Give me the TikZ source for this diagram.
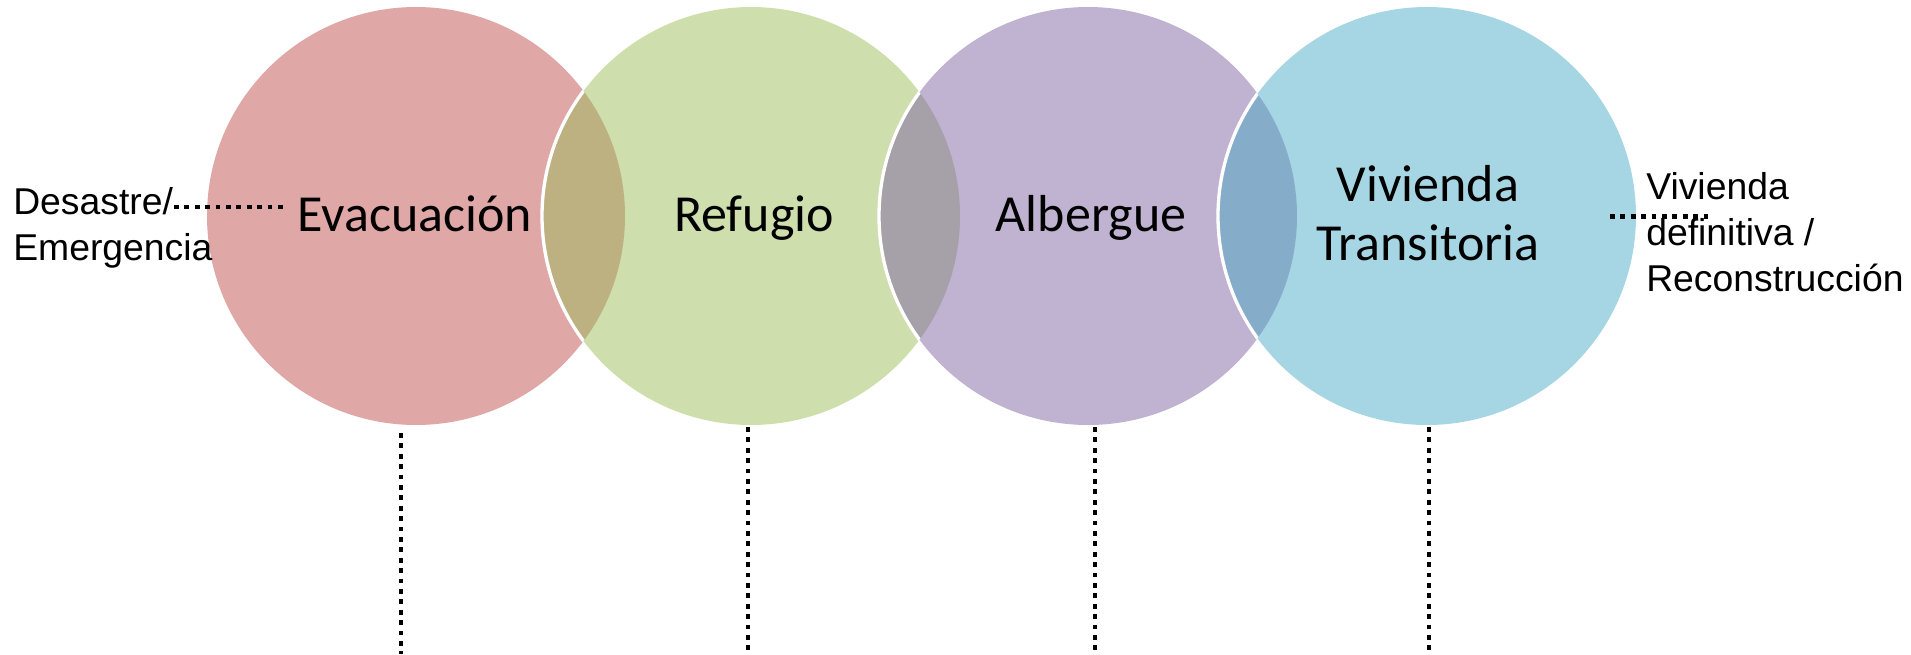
\documentclass[tikz,border=0pt]{standalone}
\usepackage{fontspec}
\setmainfont{Carlito}
\newfontfamily\arialfont{Liberation Sans}
\usetikzlibrary{positioning}
\definecolor{evac_fil}{RGB}{224,167,167}
\definecolor{refug_fil}{RGB}{206,222,173}
\definecolor{alberg_fil}{RGB}{192,178,209}
\definecolor{vivtr_fil}{RGB}{166,214,227}
\definecolor{lens_er}{RGB}{189,177,129}
\definecolor{lens_ra}{RGB}{166,160,168}
\definecolor{lens_av}{RGB}{133,173,201}
\newcommand\rad{156.75pt}
\tikzset{stage/.style = {circle, inner sep=0pt, minimum size=2*\rad, draw=none}}
\tikzset{stagetext/.style = {inner sep=0pt, align=center, font=\fontsize{39}{44.5}\selectfont}}
\tikzset{sidetext/.style = {inner sep=0pt, align=left, font=\arialfont\fontsize{28}{34.5}\selectfont}}
\tikzset{dotline/.style = {line width=3.6pt, line cap=butt, dash pattern=on 3.6pt off 4.2pt}}

\begin{document}
\begin{tikzpicture}[x=0.75pt,y=-0.75pt]
\useasboundingbox (0,0) rectangle (1911,654);

\node[stage, fill=evac_fil] (evac) at (416,216) {};
\node[stage, fill=refug_fil] (refug) at (751,216) {};
\node[stage, fill=alberg_fil] (alberg) at (1088,216) {};
\node[stage, fill=vivtr_fil] (vivtr) at (1427,216) {};

\foreach \a/\b/\c in {evac/refug/lens_er, refug/alberg/lens_ra, alberg/vivtr/lens_av}{
	\begin{scope}
	\clip (\a.center) circle[radius=\rad];
	\fill[\c] (\b.center) circle[radius=\rad];
	\draw[white, line width=2.5pt] (\b.center) circle[radius=\rad];
	\end{scope}
	}

\node[stagetext, anchor=base] (evac_t) at (415,231) {Evacuación};
\node[stagetext, anchor=base] (refug_t) at (754,231) {Refugio};
\node[stagetext, anchor=base] (alberg_t) at (1091,231) {Albergue};
\node[stagetext] (vivtr_t) at (1428,213) {Vivienda\\Transitoria};

\node[sidetext, anchor=west] (desastre) at (13,228) {Desastre/\\Emergencia};
\node[sidetext, anchor=west] (definit) at (1646,232) {Vivienda\\definitiva /\\Reconstrucción};

\coordinate (desastre_e) at (174,207);
\draw[dotline] (desastre_e) -- (evac_t.west |- desastre_e) [shorten >=11pt];
\coordinate (definit_w) at (1610,216.5);
\coordinate (definit_e) at (1713,216.5);
\draw[dotline] (definit_w) -- (definit_e);

\foreach \n/\x/\y in {evac/401/433, refug/748/427, alberg/1095/427, vivtr/1429/427}{
	\coordinate (\n_top) at (\x,\y);
	\coordinate (\n_bot) at (\x,654);
	\draw[dotline] (\n_top) -- (\n_bot);
	}
\end{tikzpicture}
\end{document}
